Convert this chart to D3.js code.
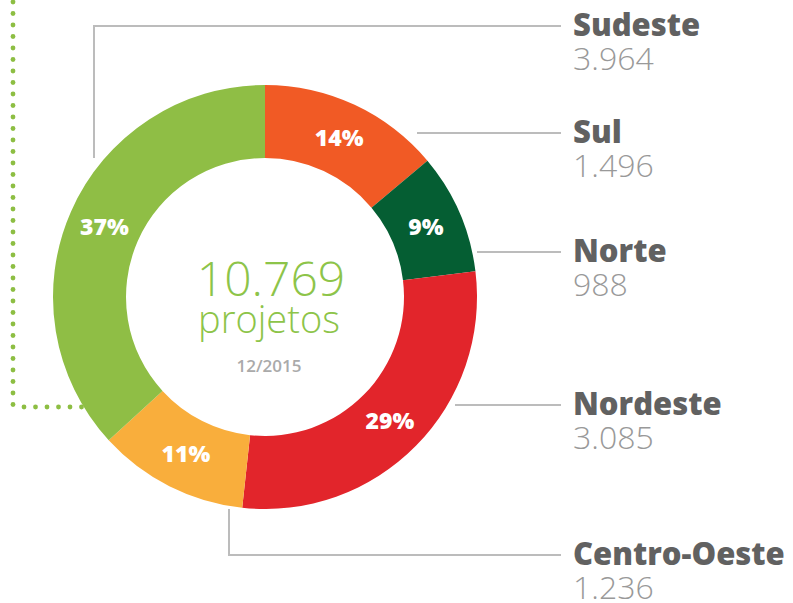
<!DOCTYPE html>
<html>
<head>
<meta charset="utf-8">
<script src="https://cdn.jsdelivr.net/npm/d3@7"></script>
<style>
  body { margin: 0; background: #fff; }
  svg { display: block; font-family: "Open Sans", sans-serif; }
</style>
</head>
<body>
<svg width="793" height="603"></svg>
<script>
// données
const regions = ["Sul", "Norte", "Nordeste", "Centro-Oeste", "Sudeste"];
const values = [1496, 988, 3085, 1236, 3964];
const colors = ["#f15a25", "#055e33", "#e2252b", "#f9ae3c", "#8fbe45"];
const total = "10.769";
const unit = "projetos";
const date = "12/2015";

// position des étiquettes (ligne de rappel)
const labelY = { "Sudeste": 26, "Sul": 133, "Norte": 252, "Nordeste": 405, "Centro-Oeste": 555 };

const svg = d3.select("svg");
const cx = 265, cy = 297, rOut = 212, rIn = 139;
const fmt = d3.format(",");
const ptFmt = v => fmt(v).replace(/,/g, ".");

const sum = d3.sum(values);
const pie = d3.pie().sort(null).value(d => d)(values);
const arc = d3.arc().innerRadius(rIn).outerRadius(rOut);

// ligne pointillée verte à gauche
const dots = svg.append("g").attr("fill", "#8dbe43");
d3.range(2, 408, 11.5).forEach(y => dots.append("circle").attr("cx", 13).attr("cy", y).attr("r", 2.4));
d3.range(24, 84, 11.5).forEach(x => dots.append("circle").attr("cx", x).attr("cy", 407).attr("r", 2.4));

// lignes de rappel
const lines = svg.append("g").attr("fill", "none").attr("stroke", "#bcbcbc").attr("stroke-width", 2);
lines.append("path").attr("d", `M94,158V${labelY["Sudeste"]}H561`);
lines.append("path").attr("d", `M417,${labelY["Sul"]}H561`);
lines.append("path").attr("d", `M477,${labelY["Norte"]}H561`);
lines.append("path").attr("d", `M455,${labelY["Nordeste"]}H561`);
lines.append("path").attr("d", `M229,509V${labelY["Centro-Oeste"]}H561`);

// anneau
const g = svg.append("g").attr("transform", `translate(${cx},${cy})`);
g.selectAll("path.slice")
  .data(pie)
  .enter()
  .append("path")
  .attr("class", "slice")
  .attr("d", arc)
  .attr("fill", (d, i) => colors[i]);

g.selectAll("text.pct")
  .data(pie)
  .enter()
  .append("text")
  .attr("class", "pct")
  .attr("transform", d => `translate(${arc.centroid(d)})`)
  .attr("text-anchor", "middle")
  .attr("dy", "0.36em")
  .attr("fill", "#fff")
  .attr("font-size", "23px")
  .attr("font-weight", 800)
  .text(d => Math.round(d.value / sum * 100) + "%");

// texte central
svg.append("text").attr("x", 271).attr("y", 296).attr("text-anchor", "middle")
  .attr("font-size", "48px").attr("font-weight", 300).attr("fill", "#8dc449").text(total);
svg.append("text").attr("x", 269).attr("y", 333).attr("text-anchor", "middle")
  .attr("font-size", "38px").attr("font-weight", 300).attr("fill", "#8dc449").text(unit);
svg.append("text").attr("x", 269).attr("y", 372).attr("text-anchor", "middle")
  .attr("font-size", "17px").attr("font-weight", 600).attr("fill", "#aaa").text(date);

// étiquettes à droite
regions.forEach((r, i) => {
  const y = labelY[r];
  svg.append("text").attr("x", 573).attr("y", y + 10).attr("font-size", "31px")
    .attr("font-weight", 800).attr("fill", "#616161").text(r);
  svg.append("text").attr("x", 573).attr("y", y + 44).attr("font-size", "32px")
    .attr("font-weight", 300).attr("fill", "#999").text(ptFmt(values[i]));
});
</script>
</body>
</html>
